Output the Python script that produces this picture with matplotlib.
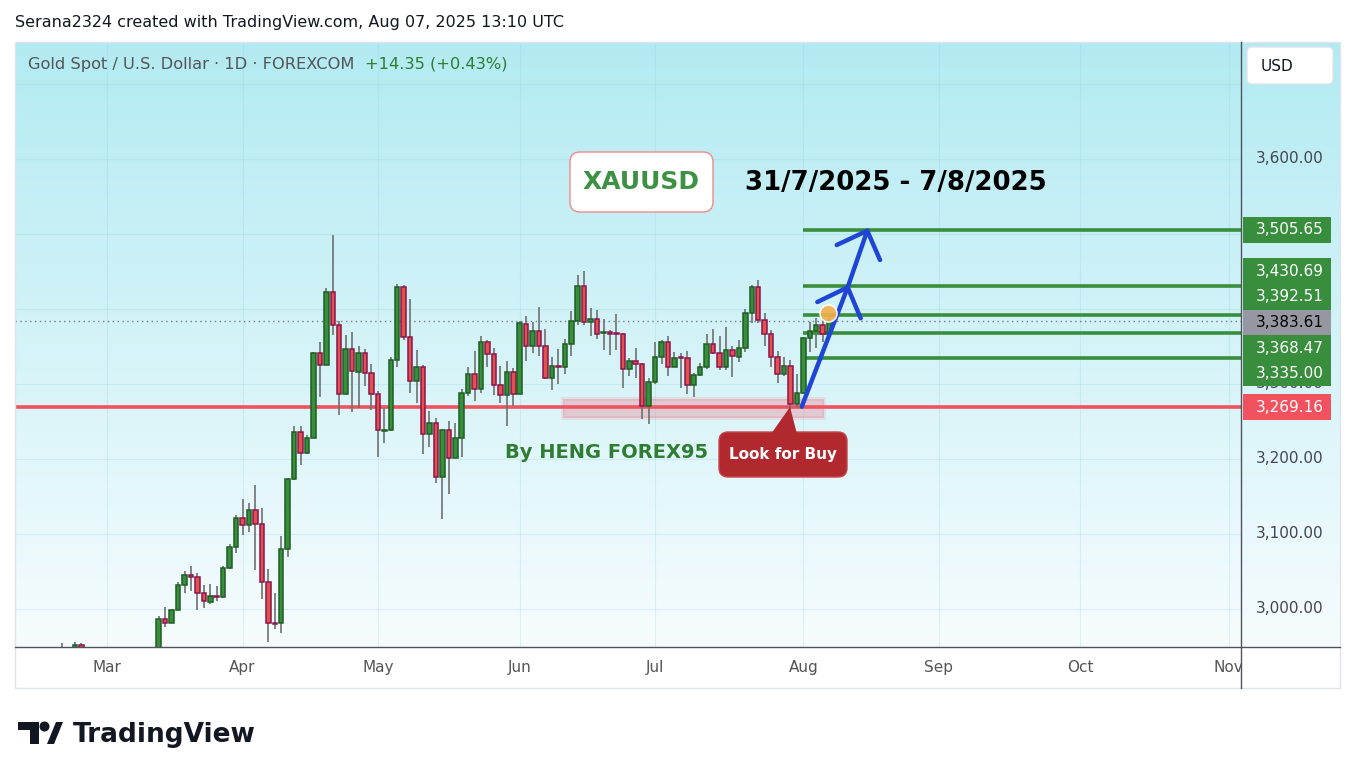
import numpy as np
import pandas as pd
import matplotlib
matplotlib.use("Agg")
from matplotlib import pyplot as plt
from matplotlib.patches import Rectangle, FancyBboxPatch, Polygon

# ---- data (XAUUSD daily, FOREXCOM) ----
dates = pd.bdate_range("2025-02-20", "2025-08-07")
dates = dates[dates != pd.Timestamp("2025-04-18")]  # Good Friday

opens = [
    2935, 2939, 2936, 2952, 2915, 2916, 2875,                       # Feb
    2857, 2893, 2918, 2920, 2911, 2910, 2889, 2916, 2934, 2987,
    2981, 2999, 3032, 3045, 3043, 3021, 3009, 3017, 3016, 3054, 3083,  # Mar
    3121, 3112, 3132, 3113, 3036, 2981, 2981, 3080, 3173, 3236,
    3208, 3228, 3341, 3325, 3423, 3379, 3286, 3347, 3316, 3341, 3315,  # Apr
    3286, 3237, 3239, 3332, 3429, 3362, 3304, 3323, 3233, 3248, 3176,
    3239, 3201, 3228, 3288, 3313, 3293, 3356, 3340, 3298, 3285, 3316,  # May
    3287, 3380, 3350, 3371, 3351, 3308, 3324, 3322, 3353, 3384, 3431,
    3383, 3387, 3368.5, 3369, 3368, 3367, 3320, 3331, 3327, 3271,      # Jun
    3302, 3336, 3356, 3323, 3335, 3335, 3299, 3312, 3323, 3353, 3341,
    3323, 3345, 3336, 3348, 3394, 3429, 3385, 3367, 3336, 3313, 3324, 3273,  # Jul
    3288, 3361, 3371, 3378, 3367,                                    # Aug
]
highs = [
    2955, 2946, 2956, 2955, 2925, 2919, 2880,
    2896, 2928, 2930, 2925, 2930, 2915, 2922, 2940, 2990, 3003,
    3000, 3036, 3051, 3057, 3048, 3032, 3033, 3031, 3057, 3086, 3125,
    3147, 3141, 3165, 3134, 3053, 3021, 3097, 3174, 3244, 3244,
    3232, 3343, 3356, 3428, 3499, 3384, 3365, 3369, 3351, 3347, 3327,
    3290, 3268, 3336, 3433, 3432, 3413, 3345, 3325, 3264, 3255, 3240,
    3251, 3248, 3293, 3322, 3344, 3364, 3359, 3348, 3324, 3330, 3321,
    3384, 3391, 3383, 3402, 3373, 3336, 3347, 3360, 3397, 3445, 3450,
    3401, 3399, 3386, 3372, 3393, 3368, 3335, 3348, 3328,
    3308, 3356, 3359, 3364, 3343, 3341, 3344, 3315, 3328, 3367, 3373,
    3364, 3376, 3351, 3359, 3400, 3432, 3438, 3394, 3372, 3344, 3336, 3332,
    3313, 3363, 3382, 3388, 3388, 3394,
]
lows = [
    2922, 2918, 2933, 2890, 2904, 2874, 2832,
    2856, 2880, 2894, 2894, 2896, 2880, 2880, 2906, 2932, 2976,
    2981, 2998, 3021, 3024, 2998, 3001, 3007, 3011, 3014, 3053, 3075,
    3098, 3102, 3052, 3013, 2956, 2973, 2968, 3069, 3172, 3192,
    3207, 3228, 3283, 3325, 3365, 3259, 3286, 3263, 3268, 3297, 3265,
    3202, 3221, 3237, 3323, 3359, 3288, 3274, 3207, 3216, 3168, 3120,
    3153, 3201, 3203, 3284, 3277, 3288, 3322, 3285, 3275, 3244, 3270,
    3286, 3331, 3341, 3337, 3307, 3292, 3300, 3313, 3337, 3379, 3379,
    3364, 3360, 3345, 3339, 3345, 3294, 3311, 3308, 3253,
    3246, 3300, 3326, 3310, 3322, 3295, 3287, 3282, 3310, 3320, 3340,
    3319, 3319, 3309, 3329, 3343, 3381, 3381, 3350, 3323, 3301, 3310, 3265,
    3269, 3287, 3343, 3348, 3356, 3367,
]
closes = [
    2939, 2936, 2952, 2915, 2916, 2875, 2857,
    2893, 2918, 2920, 2911, 2910, 2889, 2916, 2934, 2987, 2981,
    2999, 3032, 3045, 3043, 3021, 3011, 3017, 3016, 3055, 3083, 3121,
    3112, 3132, 3113, 3036, 2981, 2980, 3080, 3173, 3236, 3208,
    3228, 3341, 3325, 3423, 3379, 3286, 3347, 3317, 3341, 3315, 3286,
    3238, 3239, 3332, 3429, 3362, 3304, 3323, 3233, 3248, 3176, 3239,
    3201, 3228, 3288, 3313, 3293, 3356, 3340, 3298, 3285, 3316, 3286,
    3381, 3350, 3371, 3350, 3308, 3324, 3322, 3353, 3384, 3431, 3383,
    3387, 3367, 3369.5, 3367, 3367, 3320, 3331, 3327, 3271, 3302,
    3336, 3356, 3323, 3335, 3334.5, 3299, 3312, 3323, 3353, 3341, 3323,
    3345, 3337, 3348, 3394, 3429, 3385, 3367, 3336, 3313, 3324, 3273, 3288,
    3361, 3371, 3378, 3367, 3383.61,
]
assert len(dates) == len(opens) == len(highs) == len(lows) == len(closes)

price_ticks = [3000, 3100, 3200, 3300, 3400, 3500, 3600, 3700]
shown_tick_labels = [3000, 3100, 3200, 3300, 3600]   # the rest sit under labels / USD button
targets = [3505.65, 3430.69, 3392.51, 3368.47, 3335.00]
support = 3269.16
last_price = closes[-1]
zone_x = [77.7, 118.2]       # bar index span of the buy zone
zone_y = [3254, 3280]
# hand-drawn projection arrows (bar index, price)
arrow_path = [(114.75, 3269.7), (121.88, 3428.9), (124.92, 3504.4)]
head1 = [(117.17, 3409.3), (121.88, 3428.9), (123.90, 3387.6)]
head2 = [(120.18, 3485.3), (124.92, 3504.4), (126.90, 3465.3)]
marker_pt = (118.83, 3394.7)

# future bars for the time axis (TradingView keeps spacing by weekdays)
all_days = dates.append(pd.bdate_range("2025-08-08", "2025-11-28"))
month_idx = [i for i in range(1, len(all_days)) if all_days[i].month != all_days[i - 1].month]
month_lbl = [all_days[i].strftime("%b") for i in month_idx]

W, H = 1355, 779
x_lo, x_hi = -7.3, 182.9
y_lo, y_hi = 2949.33, 3756.0


def fr(px, py, w, h):
    return [px / W, 1 - (py + h) / H, w / W, h / H]


fig = plt.figure(figsize=(W / 100, H / 100), dpi=100)
fig.patch.set_facecolor("white")

# gradient background of chart + price scale
bg = fig.add_axes(fr(15, 42, 1325, 605))
t = np.linspace(0, 1, 256)[:, None]
top = np.array([0.70, 0.92, 0.95])
bot = np.array([0.965, 0.988, 0.995])
grad = (top * (1 - t) + bot * t).reshape(256, 1, 3)
bg.imshow(grad, aspect="auto", extent=[0, 1, 0, 1])
bg.set_axis_off()

ax = fig.add_axes(fr(15, 42, 1226, 605))
ax.set_xlim(x_lo, x_hi)
ax.set_ylim(y_lo, y_hi)
ax.set_axis_off()

for p in price_ticks:
    ax.axhline(p, color=(0.55, 0.82, 0.88, 0.25), lw=0.8, zorder=0)
for m in month_idx:
    ax.axvline(m, color=(0.55, 0.82, 0.88, 0.25), lw=0.8, zorder=0)

# buy zone and support
ax.add_patch(Rectangle((zone_x[0], zone_y[0]), zone_x[1] - zone_x[0], zone_y[1] - zone_y[0],
                       facecolor=(0.95, 0.3, 0.38, 0.25), edgecolor=(0.95, 0.3, 0.38, 0.12),
                       lw=3, zorder=1))
ax.axhline(support, color="#F25260", lw=2.6, zorder=2)
ax.axhline(last_price, color="#787B86", lw=1, ls=(0, (1, 2.5)), zorder=2)

# candles
x = np.arange(len(closes))
o = np.array(opens, float)
c = np.array(closes, float)
up = c >= o
ax.vlines(x, lows, highs, color="#707070", lw=1.2, zorder=3)
body = np.where(np.abs(c - o) < 0.8, 0.8, c - o)
ax.bar(x, body, bottom=o, width=0.7,
       color=np.where(up, "#388E3C", "#E0524A"),
       edgecolor=np.where(up, "#1E5E22", "#8C1450"), lw=1.1, zorder=4)

# target lines
ax.hlines(targets, 115, x_hi, color="#388E3C", lw=2.6, zorder=3)

# arrows
ax.plot(*zip(*arrow_path), color="#1F45D6", lw=3.2, solid_capstyle="round", zorder=6)
ax.plot(*zip(*head1), color="#1F45D6", lw=3.2, solid_capstyle="round", solid_joinstyle="round", zorder=6)
ax.plot(*zip(*head2), color="#1F45D6", lw=3.2, solid_capstyle="round", solid_joinstyle="round", zorder=6)
ax.scatter([marker_pt[0]], [marker_pt[1]], s=150, color="#F2B04A", edgecolor="white",
           lw=1.2, alpha=0.9, zorder=7)

# ---- price scale ----
pax = fig.add_axes(fr(1241, 42, 99, 605))
pax.set_xlim(0, 99)
pax.set_ylim(y_lo, y_hi)
pax.set_axis_off()
for p in shown_tick_labels:
    pax.text(49, p, f"{p:,.2f}", ha="center", va="center", fontsize=11, color="#434651", zorder=1)

ppx = (y_hi - y_lo) / 605
box_h = 25.6 * ppx
labels = [(v, "#388E3C", "white") for v in targets] + [(last_price, "#9598A1", "black"),
                                                       (support, "#F25260", "white")]
labels.sort(key=lambda r: -r[0])
clusters = [[r] for r in labels]
merged = True
while merged:
    merged = False
    for k in range(len(clusters) - 1):
        a, b = clusters[k], clusters[k + 1]
        ma = np.mean([r[0] for r in a])
        mb = np.mean([r[0] for r in b])
        if ma - len(a) * box_h / 2 < mb + len(b) * box_h / 2:
            clusters[k] = a + b
            del clusters[k + 1]
            merged = True
            break
for cl in clusters:
    m = np.mean([r[0] for r in cl])
    n = len(cl)
    for j, (v, fc, tc) in enumerate(cl):
        yc = m + ((n - 1) / 2 - j) * box_h
        pax.add_patch(Rectangle((2, yc - box_h / 2), 88, box_h, facecolor=fc, edgecolor="none", zorder=3))
        pax.text(49, yc, f"{v:,.2f}", ha="center", va="center", fontsize=11, color=tc, zorder=4)

# ---- time scale ----
tax = fig.add_axes(fr(15, 647, 1226, 41))
tax.set_xlim(x_lo, x_hi)
tax.set_ylim(0, 1)
tax.set_axis_off()
for m, lb in zip(month_idx, month_lbl):
    tax.text(m, 0.5, lb, ha="center", va="center", fontsize=11, color="#555555", clip_on=True)

# ---- overlay in pixel space ----
ov = fig.add_axes([0, 0, 1, 1])
ov.set_xlim(0, W)
ov.set_ylim(H, 0)
ov.set_axis_off()
ov.add_patch(Rectangle((15, 42), 1325, 646, fill=False, edgecolor="#E0E3EB", lw=1))
ov.plot([15, 1340], [647, 647], color="#50535E", lw=1)
ov.plot([1241, 1241], [42, 688], color="#50535E", lw=1)

ov.text(15, 22, "Serana2324 created with TradingView.com, Aug 07, 2025 13:10 UTC",
        fontsize=11.5, color="#131722", va="center")
t1 = ov.text(28, 64, "Gold Spot / U.S. Dollar \u00b7 1D \u00b7 FOREXCOM", fontsize=11.7,
             color="#555555", va="center")
r = fig.canvas.get_renderer()
bb = t1.get_window_extent(renderer=r)
ov.text(bb.x1 + 11, 64, "+14.35 (+0.43%)", fontsize=11.7, color="#2E7D32", va="center")

ov.add_patch(FancyBboxPatch((1247, 47), 86, 37, boxstyle="round,pad=0,rounding_size=5",
                            facecolor="white", edgecolor="#E0E3EB", lw=1))
ov.text(1277, 66, "USD", fontsize=11, color="#131722", ha="center", va="center")

ov.add_patch(FancyBboxPatch((570, 152), 143, 60, boxstyle="round,pad=0,rounding_size=10",
                            facecolor="white", edgecolor="#F08A8A", lw=1))
ov.text(641.5, 182, "XAUUSD", fontsize=18, fontweight="bold", color="#3C9142",
        ha="center", va="center")
ov.text(896, 183, "31/7/2025 - 7/8/2025", fontsize=18.7, fontweight="bold", color="black",
        ha="center", va="center")
ov.text(607, 452, "By HENG FOREX95", fontsize=14, fontweight="bold", color="#2E7D32",
        ha="center", va="center")

ov.add_patch(FancyBboxPatch((719, 432), 128, 45, boxstyle="round,pad=0,rounding_size=9",
                            facecolor="#B2282F", edgecolor="#C4454B", lw=1, zorder=5))
ov.add_patch(Polygon([(771, 434), (790, 407), (797, 434)], closed=True,
                     facecolor="#B2282F", edgecolor="none", zorder=5))
ov.text(783, 454, "Look for Buy", fontsize=11, fontweight="bold", color="white",
        ha="center", va="center", zorder=6)

# TradingView logo
ov.add_patch(Polygon([(18, 722), (39, 722), (39, 744), (30, 744), (30, 730), (18, 730)],
                     closed=True, facecolor="#131722", edgecolor="none"))
ov.add_patch(plt.Circle((44.5, 726.5), 4.3, color="#131722"))
ov.add_patch(Polygon([(47, 744), (54, 744), (63, 722), (56, 722)], closed=True,
                     facecolor="#131722", edgecolor="none"))
ov.text(73, 735, "TradingView", fontsize=19, fontweight="bold", color="#131722", va="center")

fig.savefig("out.png", dpi=100)
